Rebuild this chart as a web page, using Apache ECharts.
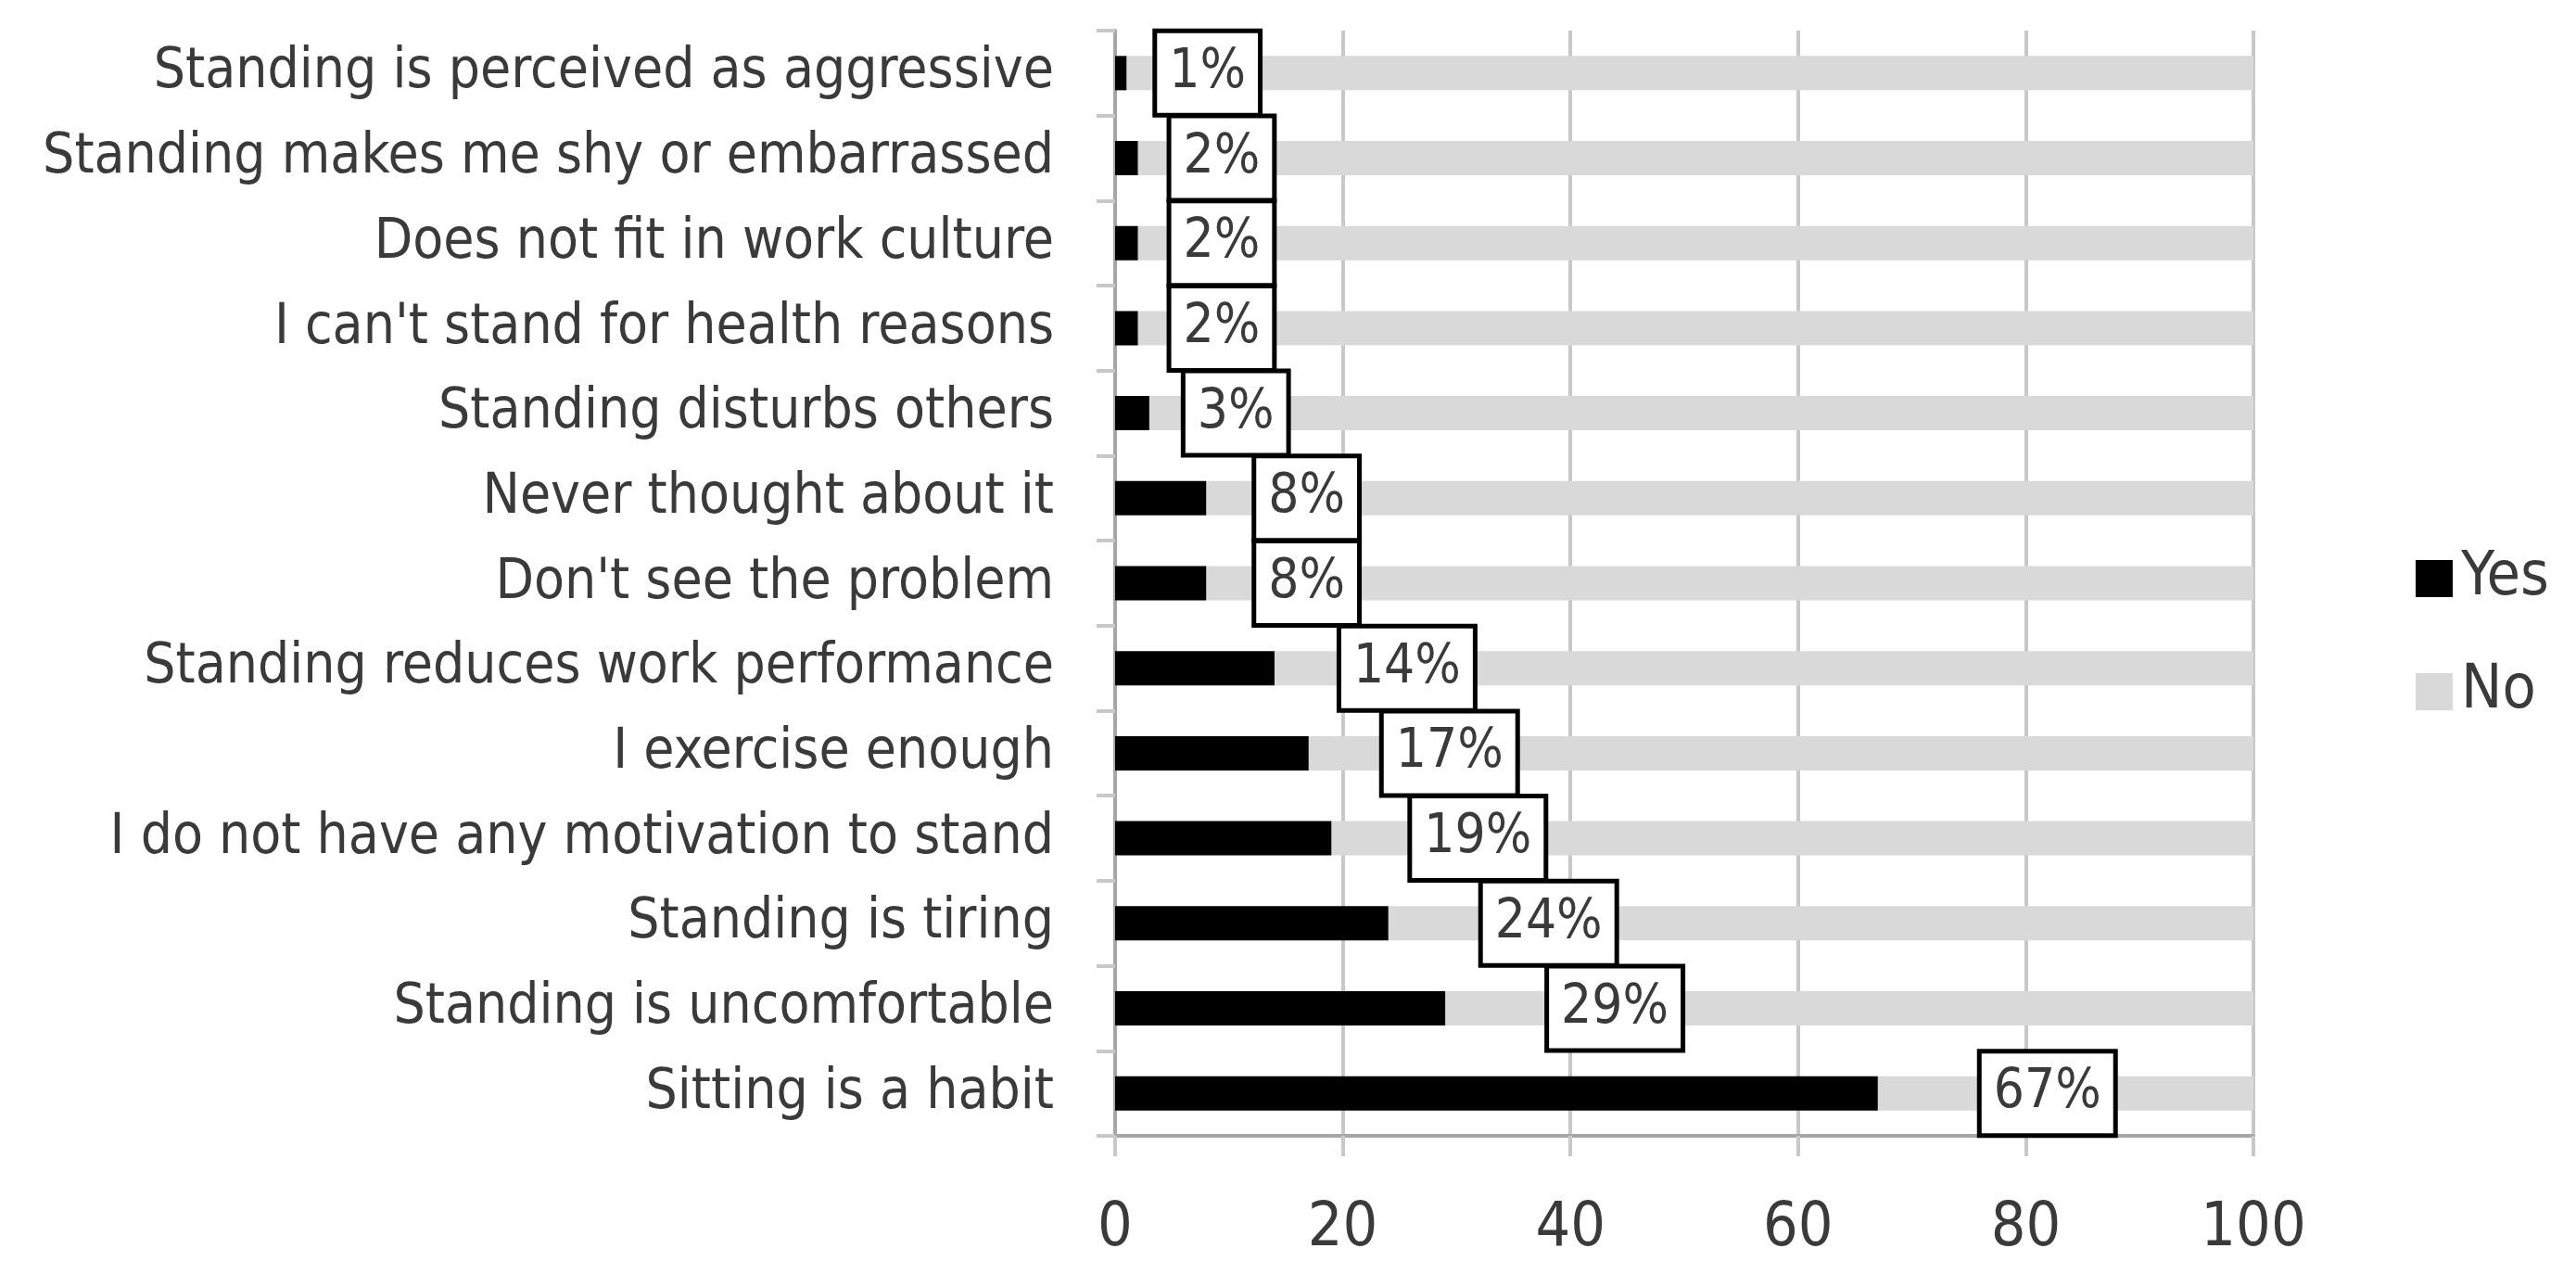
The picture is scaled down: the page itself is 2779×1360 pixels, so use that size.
<!DOCTYPE html>
<html>
<head>
<meta charset="utf-8">
<script src="https://cdn.jsdelivr.net/npm/echarts@6/dist/echarts.min.js"></script>
<style>
html,body{margin:0;padding:0;background:#fff;}
#chart{width:2779px;height:1360px;}
</style>
</head>
<body>
<div id="chart"></div>
<script>
var categories = [
  "Standing is perceived as aggressive",
  "Standing makes me shy or embarrassed",
  "Does not fit in work culture",
  "I can't stand for health reasons",
  "Standing disturbs others",
  "Never thought about it",
  "Don't see the problem",
  "Standing reduces work performance",
  "I exercise enough",
  "I do not have any motivation to stand",
  "Standing is tiring",
  "Standing is uncomfortable",
  "Sitting is a habit"
];
var yesValues = [1, 2, 2, 2, 3, 8, 8, 14, 17, 19, 24, 29, 67];
var noValues  = [99, 98, 98, 98, 97, 92, 92, 86, 83, 81, 76, 71, 33];
var xTicks = [0, 20, 40, 60, 80, 100];
var seriesNames = ["Yes", "No"];

var FONT = "'Liberation Sans Narrow', 'DejaVu Sans Condensed', 'Liberation Sans', sans-serif";
var TEXT = '#3a3a3a';

var yesData = yesValues.map(function (v) {
  return {
    value: v,
    label: { distance: Math.min(30 + 3 * v, 112) }
  };
});

var chart = echarts.init(document.getElementById('chart'));
chart.setOption({
  animation: false,
  backgroundColor: '#ffffff',
  textStyle: { fontFamily: FONT },
  grid: { left: 1203, right: 348, top: 33, bottom: 135, containLabel: false, outerBoundsMode: 'none' },
  legend: {
    orient: 'vertical',
    left: 2601,
    top: 586,
    itemWidth: 40,
    itemHeight: 40,
    itemGap: 56,
    icon: 'rect',
    data: seriesNames,
    textStyle: { fontFamily: FONT, fontSize: 66, color: TEXT, padding: [0, 0, 0, 4] }
  },
  xAxis: {
    type: 'value',
    min: xTicks[0],
    max: xTicks[xTicks.length - 1],
    interval: xTicks[1] - xTicks[0],
    axisLine: { show: true, lineStyle: { color: '#a6a6a6', width: 4 } },
    axisTick: { show: true, length: 22, lineStyle: { color: '#c8c8c8', width: 4 } },
    splitLine: { show: true, lineStyle: { color: '#c8c8c8', width: 4 } },
    axisLabel: { fontFamily: FONT, fontSize: 66, color: TEXT, margin: 68 }
  },
  yAxis: {
    type: 'category',
    inverse: true,
    data: categories,
    axisLine: { show: true, lineStyle: { color: '#a6a6a6', width: 4 } },
    axisTick: { show: true, length: 20, alignWithLabel: false, lineStyle: { color: '#c8c8c8', width: 4 } },
    axisLabel: { fontFamily: FONT, fontSize: 60, color: TEXT, margin: 66 }
  },
  series: [
    {
      name: seriesNames[0],
      type: 'bar',
      stack: 'total',
      barWidth: 37,
      itemStyle: { color: '#000000' },
      z: 3,
      label: {
        show: true,
        position: 'right',
        formatter: function (p) { return p.value + '%'; },
        fontFamily: FONT,
        fontSize: 58,
        lineHeight: 58,
        color: TEXT,
        backgroundColor: '#ffffff',
        borderColor: '#000000',
        borderWidth: 5,
        padding: [14, 13]
      },
      data: yesData
    },
    {
      name: seriesNames[1],
      type: 'bar',
      stack: 'total',
      barWidth: 37,
      itemStyle: { color: '#d9d9d9' },
      z: 2,
      data: noValues
    }
  ]
});
</script>
</body>
</html>
